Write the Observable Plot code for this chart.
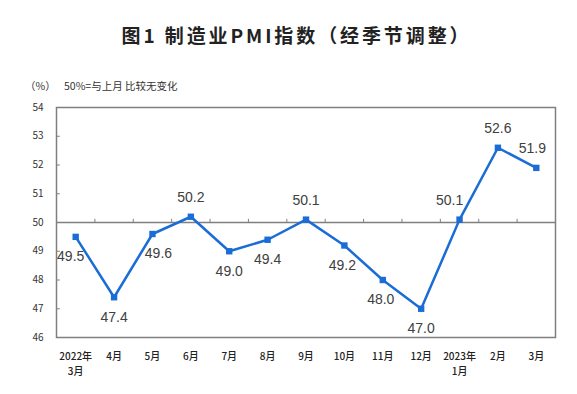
<!DOCTYPE html>
<html><head><meta charset="utf-8">
<script src="https://cdn.jsdelivr.net/npm/d3@7"></script>
<script src="https://cdn.jsdelivr.net/npm/@observablehq/plot@0.6"></script>
<style>
body{margin:0;background:#fff;width:577px;height:394px;overflow:hidden;font-family:"Noto Sans CJK SC","Liberation Sans",sans-serif;}
#title{height:78px;line-height:70px;text-align:center;font-size:19px;font-weight:bold;letter-spacing:2.9px;color:#222;padding-left:16px;}
#sub{height:16px;line-height:16px;font-size:10.5px;color:#333;position:relative;}
#sub .u{position:absolute;left:25px;}
#sub .n{position:absolute;left:64px;}
</style></head>
<body>
<div id="title">图1 制造业PMI指数（经季节调整）</div>
<div id="sub"><span class="u">（%）</span><span class="n">50%=与上月 比较无变化</span></div>
<div id="chart"></div>
<script>
const months = ["2022年\n3月","4月","5月","6月","7月","8月","9月","10月","11月","12月","2023年\n1月","2月","3月"];
const pmi = [49.5,47.4,49.6,50.2,49.0,49.4,50.1,49.2,48.0,47.0,50.1,52.6,51.9];
const yTicks = [46,47,48,49,50,51,52,53,54];

const data = months.map((m,i)=>({i, m, v: pmi[i]}));
const bounds = months.slice(1).map((_,i)=>i+0.5);
const blue = "#1a6cd6";
const grey = "#7f7f7f";
const lblFont = {fontSize: 14, fill: "#404040", fontFamily: "Liberation Sans, Arial, sans-serif"};
const nudge = {0:-5, 2:6, 7:-2, 8:-2, 10:-10, 12:-4};

const marks = [
  Plot.ruleY([50], {stroke: grey, strokeWidth: 1.3}),
  Plot.ruleX(bounds, {x: d=>d, y1: 50, y2: 50.11, stroke: grey, strokeWidth: 1}),
  Plot.ruleY(yTicks, {y: d=>d, x1: -0.5, x2: -0.4, stroke: grey, strokeWidth: 1}),
  Plot.frame({stroke: grey, strokeWidth: 1.5}),
  Plot.line(data, {x: "i", y: "v", stroke: blue, strokeWidth: 2.5}),
  Plot.dot(data, {x: "i", y: "v", symbol: "square", fill: blue, r: 3.6}),
  Plot.axisY({ticks: yTicks, tickSize: 0, tickPadding: 13, fontSize: 10, tickFormat: d=>String(d), fill: "#333", label: null}),
  Plot.axisX({ticks: months.map((_,i)=>i), tickSize: 0, tickPadding: 12, fontSize: 10, lineAnchor: "top", lineHeight: 1.5, tickFormat: i=>months[i], fill: "#222", fontWeight: 500, label: null})
];
for (const dx of [...new Set([0, ...Object.values(nudge)])]) {
  const sel = d => (nudge[d.i] ?? 0) === dx;
  marks.push(Plot.text(data.filter(d=>sel(d) && d.v>=50), {x:"i", y:"v", text: d=>d.v.toFixed(1), dy:-19, dx, ...lblFont}));
  marks.push(Plot.text(data.filter(d=>sel(d) && d.v<50), {x:"i", y:"v", text: d=>d.v.toFixed(1), dy:20, dx, ...lblFont}));
}

const chart = Plot.plot({
  width: 577, height: 300,
  marginLeft: 56, marginRight: 22, marginTop: 13, marginBottom: 57,
  style: {fontFamily: "'Noto Sans CJK SC', 'Liberation Sans', sans-serif", background: "#fff"},
  x: {domain: [-0.5, 12.5], axis: null},
  y: {domain: [46, 54], axis: null},
  marks
});
document.getElementById("chart").appendChild(chart);
</script>
</body></html>
